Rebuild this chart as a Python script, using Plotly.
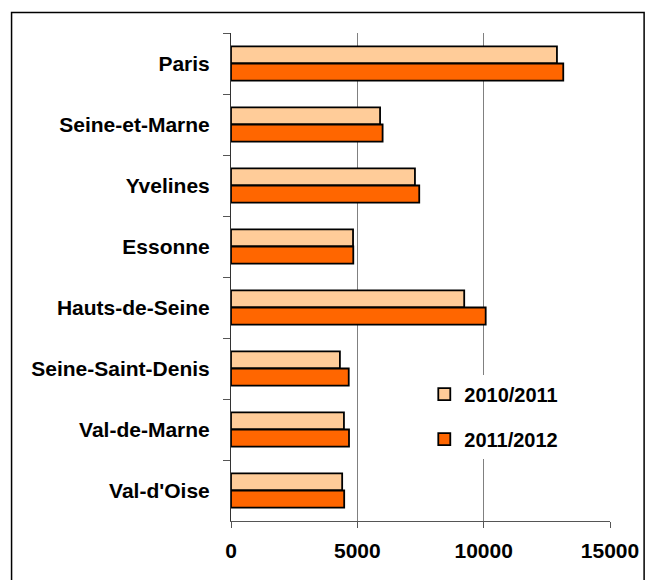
import plotly.graph_objects as go

departements = ["Paris", "Seine-et-Marne", "Yvelines", "Essonne", "Hauts-de-Seine",
                "Seine-Saint-Denis", "Val-de-Marne", "Val-d'Oise"]
annee_2010_2011 = [12900, 5900, 7280, 4830, 9230, 4310, 4470, 4400]
annee_2011_2012 = [13150, 6000, 7450, 4840, 10080, 4660, 4670, 4480]
x_ticks = [0, 5000, 10000, 15000]

FONT = "Liberation Sans, Arial, sans-serif"
LIGHT = "#FFCC99"
DARK = "#FF6600"

fig = go.Figure()
fig.add_trace(go.Bar(
    y=departements, x=annee_2010_2011, orientation="h", name="2010/2011",
    legendgroup="a",
    marker=dict(color=LIGHT, line=dict(color="black", width=1.8)),
))
fig.add_trace(go.Bar(
    y=departements, x=annee_2011_2012, orientation="h", name="2011/2012",
    legendgroup="b",
    marker=dict(color=DARK, line=dict(color="black", width=1.8)),
))

# outer chart border (bottom edge runs off the picture)
fig.add_shape(type="rect", xref="paper", yref="paper",
              x0=-0.579, x1=1.090, y0=-0.2, y1=1.042,
              line=dict(color="black", width=1.5), fillcolor="rgba(0,0,0,0)",
              layer="below")

# page body has an 8px margin, so the figure is sized to fit inside it
fig.update_layout(
    width=637, height=572,
    margin=dict(l=223, r=35, t=25, b=59, autoexpand=False),
    paper_bgcolor="white", plot_bgcolor="white",
    barmode="group", bargap=0.44, bargroupgap=0,
    showlegend=True,
    legend=dict(
        x=0.51, y=0.30, xanchor="left", yanchor="top",
        bgcolor="white", borderwidth=0,
        traceorder="grouped", tracegroupgap=16,
        font=dict(family=FONT, size=20, color="black", weight="bold"),
    ),
    xaxis=dict(
        range=[0, 15000], tickvals=x_ticks, ticktext=[str(v) for v in x_ticks],
        showgrid=True, gridcolor="#808080", gridwidth=1,
        showline=True, linecolor="#555555", linewidth=1,
        ticks="outside", ticklen=6, tickcolor="#555555",
        ticklabelstandoff=5, zeroline=False, automargin=False,
        tickfont=dict(family=FONT, size=21, color="black", weight="bold"),
    ),
    yaxis=dict(
        autorange="reversed", automargin=False,
        showline=True, linecolor="#333333", linewidth=1,
        ticks="outside", ticklen=7, tickcolor="#555555", tickson="boundaries",
        showgrid=False, ticklabelstandoff=16,
        tickfont=dict(family=FONT, size=21, color="black", weight="bold"),
    ),
)

fig.write_html("out.html")
